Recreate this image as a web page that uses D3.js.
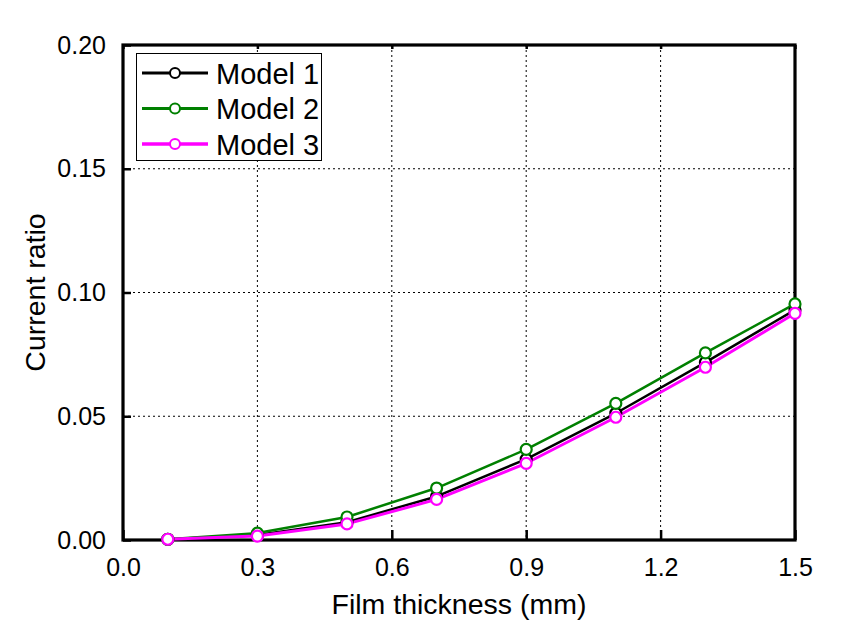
<!DOCTYPE html>
<html><head><meta charset="utf-8">
<script src="https://cdn.jsdelivr.net/npm/d3@7"></script>
<style>body{margin:0;background:#fff}svg{display:block}text{font-family:"Liberation Sans",Arial,sans-serif}</style>
</head><body><svg id="c" width="848" height="642"></svg>
<script>
const thickness = [0.1, 0.3, 0.5, 0.7, 0.9, 1.1, 1.3, 1.5];
const model1 = [0.0003, 0.0020, 0.0072, 0.0176, 0.0327, 0.0512, 0.0718, 0.0930];
const model2 = [0.0003, 0.0028, 0.0093, 0.0210, 0.0366, 0.0552, 0.0756, 0.0954];
const model3 = [0.0003, 0.0016, 0.0065, 0.0164, 0.0310, 0.0496, 0.0698, 0.0916];
const seriesNames = ["Model 1", "Model 2", "Model 3"];
const seriesColors = ["#000000", "#008000", "#ff00ff"];
const xTicks = [0.0, 0.3, 0.6, 0.9, 1.2, 1.5];
const yTicks = [0.00, 0.05, 0.10, 0.15, 0.20];

const svg = d3.select("#c");
const L = 123, R = 795, T = 45, B = 540;
const x = d3.scaleLinear().domain([0, 1.5]).range([L, R]);
const y = d3.scaleLinear().domain([0, 0.2]).range([B, T]);

// grid
const g = svg.append("g");
g.selectAll(".gx").data(xTicks.filter(v => v > 0 && v < 1.5)).enter().append("line")
  .attr("x1", d => x(d)).attr("x2", d => x(d)).attr("y1", T).attr("y2", B)
  .attr("stroke", "#000").attr("stroke-width", 1).attr("stroke-dasharray", "2,3");
g.selectAll(".gy").data(yTicks.filter(v => v > 0 && v < 0.2)).enter().append("line")
  .attr("x1", L).attr("x2", R).attr("y1", d => y(d)).attr("y2", d => y(d))
  .attr("stroke", "#000").attr("stroke-width", 1).attr("stroke-dasharray", "2,3");

// axes
const xAxis = svg.append("g").attr("transform", `translate(0,${B})`)
  .call(d3.axisBottom(x).tickValues(xTicks).tickFormat(d3.format(".1f")).tickSizeInner(-10).tickSizeOuter(0).tickPadding(18));
const yAxis = svg.append("g").attr("transform", `translate(${L},0)`)
  .call(d3.axisLeft(y).tickValues(yTicks).tickFormat(d3.format(".2f")).tickSizeInner(-8).tickSizeOuter(0).tickPadding(17));
const xTop = svg.append("g").attr("transform", `translate(0,${T})`)
  .call(d3.axisTop(x).tickValues(xTicks).tickFormat("").tickSizeInner(-4).tickSizeOuter(0));
[xAxis, yAxis, xTop].forEach(a => {
  a.select(".domain").remove();
  a.selectAll(".tick line").attr("stroke", "#000").attr("stroke-width", 2.5);
  a.selectAll(".tick text").attr("fill", "#000").style("font-size", "25px").style("font-family", '"Liberation Sans",Arial,sans-serif');
});
xAxis.selectAll(".tick text").attr("dy", "0.71em");

// frame
svg.append("rect").attr("x", L).attr("y", T).attr("width", R - L).attr("height", B - T)
  .attr("fill", "none").attr("stroke", "#000").attr("stroke-width", 3.2);

// series
const data = [model1, model2, model3];
const widths = [2.5, 2.5, 3];
const line = d3.line().x((d, i) => x(thickness[i])).y(d => y(d));
data.forEach((vals, k) => {
  svg.append("path").datum(vals).attr("d", line).attr("fill", "none")
    .attr("stroke", seriesColors[k]).attr("stroke-width", widths[k]).attr("stroke-linejoin", "round");
});
data.forEach((vals, k) => {
  svg.append("g").selectAll("circle").data(vals).enter().append("circle")
    .attr("cx", (d, i) => x(thickness[i])).attr("cy", d => y(d)).attr("r", 5.5)
    .attr("fill", "#fff").attr("stroke", seriesColors[k]).attr("stroke-width", 2.2);
});

// axis titles
svg.append("text").attr("x", (L + R) / 2).attr("y", 614).attr("text-anchor", "middle")
  .style("font-size", "28.5px").attr("fill", "#000").text("Film thickness (mm)");
svg.append("text").attr("transform", `translate(45,${(T + B) / 2}) rotate(-90)`).attr("text-anchor", "middle")
  .style("font-size", "28.5px").attr("fill", "#000").text("Current ratio");

// legend
const lg = svg.append("g");
lg.append("rect").attr("x", 136.5).attr("y", 53.5).attr("width", 185).attr("height", 107)
  .attr("fill", "#fff").attr("stroke", "#000").attr("stroke-width", 1);
seriesNames.forEach((nm, k) => {
  const yy = 73 + k * 35.5;
  lg.append("line").attr("x1", 142).attr("x2", 208).attr("y1", yy).attr("y2", yy)
    .attr("stroke", seriesColors[k]).attr("stroke-width", widths[k] + 0.5);
  lg.append("circle").attr("cx", 175).attr("cy", yy).attr("r", 5).attr("fill", "#fff")
    .attr("stroke", seriesColors[k]).attr("stroke-width", 2);
  lg.append("text").attr("x", 216).attr("y", yy + 10.5).style("font-size", "29px").attr("fill", "#000").text(nm);
});
</script></body></html>
